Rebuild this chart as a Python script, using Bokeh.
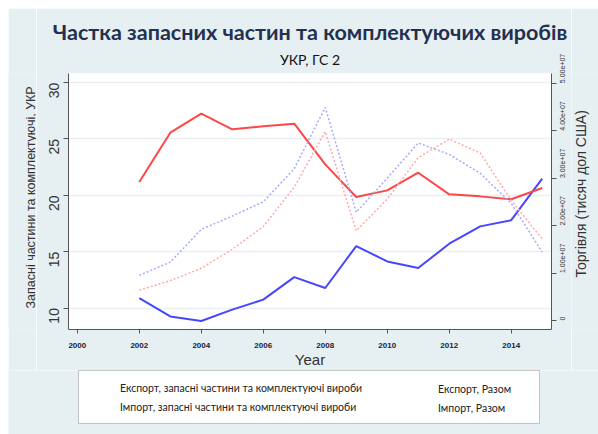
import math
from bokeh.plotting import figure
from bokeh.layouts import column, row, Spacer
from bokeh.models import (Range1d, LinearAxis, FixedTicker, CustomJSTickFormatter,
                          Legend, LegendItem, Label, Title)
from bokeh.embed import file_html
from bokeh.resources import INLINE

years = [2002, 2003, 2004, 2005, 2006, 2007, 2008, 2009, 2010, 2011, 2012, 2013, 2014, 2015]
export_parts = [10.89, 9.26, 8.85, 9.86, 10.75, 12.75, 11.78, 15.5, 14.14, 13.55, 15.71, 17.25, 17.8, 21.48]
import_parts = [21.18, 25.56, 27.25, 25.86, 26.12, 26.36, 22.75, 19.85, 20.44, 22.01, 20.09, 19.91, 19.65, 20.65]
export_total = [0.95e7, 1.23e7, 1.92e7, 2.2e7, 2.5e7, 3.2e7, 4.49e7, 2.28e7, 3.0e7, 3.74e7, 3.5e7, 3.1e7, 2.47e7, 1.44e7]
import_total = [0.64e7, 0.84e7, 1.1e7, 1.5e7, 1.98e7, 2.81e7, 3.98e7, 1.89e7, 2.56e7, 3.43e7, 3.82e7, 3.53e7, 2.53e7, 1.72e7]

x_ticks = [2000, 2002, 2004, 2006, 2008, 2010, 2012, 2014]
left_ticks = [10, 15, 20, 25, 30]
right_ticks = [0, 1e7, 2e7, 3e7, 4e7, 5e7]

title_text = "Частка запасних частин та комплектуючих виробів"
subtitle_text = "УКР, ГС 2"
ylabel_left = "Запасні частини та комплектуючі, УКР"
ylabel_right = "Торгівля (тисяч дол США)"
xlabel = "Year"
legend_labels = ["Експорт, запасні частини та комплектуючі вироби",
                 "Імпорт, запасні частини та комплектуючі вироби",
                 "Експорт, Разом", "Імпорт, Разом"]

BG = "#e6eff1"
AX = "#555555"
BLUE = "#4646ff"
RED = "#ff4646"
LBLUE = "#a8a8ff"
LRED = "#ffaaaa"


def strip(w, h):
    f = figure(width=w, height=h, output_backend="svg", toolbar_location=None, title=None,
               x_range=Range1d(0, 1), y_range=Range1d(0, 1),
               x_axis_location=None, y_axis_location=None, min_border=0,
               background_fill_color=BG, border_fill_color=BG, outline_line_color=None)
    f.grid.visible = False
    return f


def add_label(f, **kw):
    f.add_layout(Label(x_units="screen", y_units="screen", **kw))


# ---- main plot (page x 36..571, y 8..370)
p = figure(frame_width=483, frame_height=256, output_backend="svg", toolbar_location=None,
           x_range=Range1d(1999.716, 2015.3), y_range=Range1d(8.1, 30.81),
           min_border_left=32, min_border_right=20, min_border_top=65, min_border_bottom=41,
           background_fill_color="white", border_fill_color=BG, outline_line_color=None)
p.extra_y_ranges = {"trade": Range1d(-0.1896e7, 5.2044e7)}

p.title.text = title_text
p.title.align = "center"
p.title.offset = -4
p.title.text_font = "Lato"
p.title.text_font_style = "bold"
p.title.text_font_size = "21.5px"
p.title.text_color = "#24304f"
p.title.standoff = -5
p.add_layout(Title(text=subtitle_text, align="center", offset=-4, text_font="Lato",
                   text_font_style="normal", text_font_size="14px",
                   text_color="#111111", standoff=12), "above")

xa = p.xaxis[0]
xa.ticker = FixedTicker(ticks=x_ticks)
xa.axis_line_color = AX
xa.major_tick_line_color = AX
xa.major_tick_out = 4
xa.major_tick_in = 0
xa.minor_tick_line_color = None
xa.major_label_text_font = "Liberation Sans"
xa.major_label_text_font_size = "8px"
xa.major_label_text_font_style = "bold"
xa.major_label_text_color = "#222233"
xa.major_label_standoff = 9
xa.axis_label = xlabel
xa.axis_label_text_font = "Liberation Sans"
xa.axis_label_text_font_style = "normal"
xa.axis_label_text_font_size = "15px"
xa.axis_label_text_color = "#333333"
xa.axis_label_standoff = 0

ya = p.yaxis[0]
ya.ticker = FixedTicker(ticks=left_ticks)
ya.axis_line_color = AX
ya.major_tick_line_color = AX
ya.major_tick_out = 5
ya.major_tick_in = 0
ya.minor_tick_line_color = None
ya.major_label_orientation = math.pi / 2
ya.major_label_text_font = "Liberation Sans"
ya.major_label_text_font_size = "14px"
ya.major_label_text_color = "#333333"
ya.major_label_standoff = 9

ra = LinearAxis(y_range_name="trade", ticker=FixedTicker(ticks=right_ticks),
                formatter=CustomJSTickFormatter(code="""
if (tick == 0) { return "0"; }
const s = tick.toExponential(2);
const parts = s.split("e");
const e = parts[1];
return parts[0] + "e" + e[0] + e.slice(1).padStart(2, "0");
"""))
ra.axis_line_color = AX
ra.major_tick_line_color = AX
ra.major_tick_out = 5
ra.major_tick_in = 0
ra.minor_tick_line_color = None
ra.major_label_orientation = math.pi / 2
ra.major_label_text_font = "Liberation Sans"
ra.major_label_text_font_size = "7px"
ra.major_label_text_color = "#333333"
ra.major_label_standoff = 6
p.add_layout(ra, "right")

p.xgrid.visible = False
p.ygrid.ticker = FixedTicker(ticks=left_ticks)
p.ygrid.grid_line_color = "#e8f0f1"
p.ygrid.grid_line_width = 1.5

p.line(years, export_parts, line_color=BLUE, line_width=2)
p.line(years, import_parts, line_color=RED, line_width=2)
p.line(years, export_total, line_color=LBLUE, line_width=1.5, line_dash="2 2",
       y_range_name="trade")
p.line(years, import_total, line_color=LRED, line_width=1.5, line_dash="2 2",
       y_range_name="trade")

# ---- side strips with the vertical axis titles (their frames line up with the plot frame)
left = strip(28, 362)
add_label(left, x=22, y=21, text=ylabel_left, angle=math.pi / 2, text_align="left",
          text_baseline="middle", text_font="Liberation Sans", text_font_size="12.5px",
          text_color="#333333")
right = strip(27, 362)
add_label(right, x=9, y=52, text=ylabel_right, angle=math.pi / 2, text_align="left",
          text_baseline="middle", text_font="Liberation Sans", text_font_size="14px",
          text_color="#333333")

# ---- legend strip (page y 370..434)
bot = strip(590, 64)
d_exp = bot.line([], [], line_color=BLUE, line_width=2)
d_imp = bot.line([], [], line_color=RED, line_width=2)
d_expt = bot.line([], [], line_color=LBLUE, line_width=1.5, line_dash="2 2")
d_impt = bot.line([], [], line_color=LRED, line_width=1.5, line_dash="2 2")

leg_a = Legend(items=[LegendItem(label=legend_labels[0], renderers=[d_exp]),
                      LegendItem(label=legend_labels[1], renderers=[d_imp])],
               location=(70, 10), glyph_width=28, glyph_height=17, label_height=17,
               label_width=411, label_standoff=5, padding=8, spacing=2, margin=0,
               border_line_color="#8a8a8a", border_line_width=1.5,
               background_fill_color="white", background_fill_alpha=1,
               label_text_font="Lato", label_text_font_size="10.5px",
               label_text_color="#222222")
leg_b = Legend(items=[LegendItem(label=legend_labels[2], renderers=[d_expt]),
                      LegendItem(label=legend_labels[3], renderers=[d_impt])],
               location=(369, 10), glyph_width=43, glyph_height=17, label_height=17,
               label_standoff=10, padding=8, spacing=2, margin=0,
               border_line_alpha=0, background_fill_alpha=0,
               label_text_font="Lato", label_text_font_size="10.5px",
               label_text_color="#222222")
bot.add_layout(leg_a)
bot.add_layout(leg_b)

inner = column(row(left, p, right, spacing=0), bot, spacing=0)
layout = column(Spacer(width=598, height=8),
                row(Spacer(width=8, height=426), inner, spacing=0), spacing=0)
open("out.html", "w").write(file_html(layout, INLINE))
